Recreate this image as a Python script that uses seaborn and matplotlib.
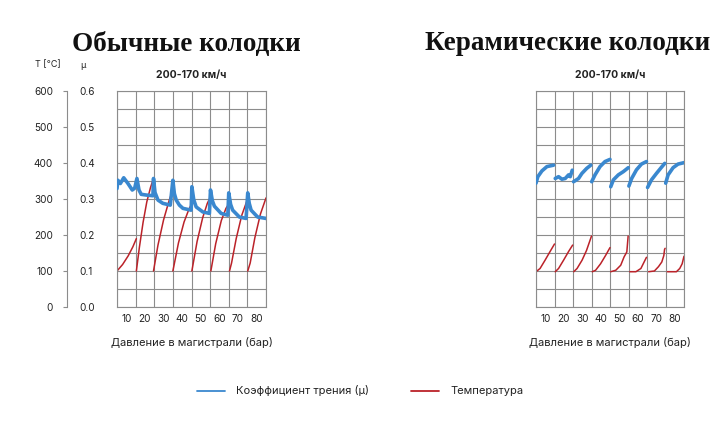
import numpy as np
import pandas as pd
import matplotlib
matplotlib.use("Agg")
import matplotlib.pyplot as plt
from matplotlib.lines import Line2D
import seaborn as sns

# --- data ---
# left chart: ordinary pads, temperature segments (one list per braking)
temp_left_x = [
    [5, 8, 11, 13.5, 15.4],
    [15.4, 17, 19, 21, 23, 24.6],
    [24.6, 27, 30, 33, 35],
    [35, 38, 41, 43.5, 45.2],
    [45.2, 48, 51, 53.5, 55.2],
    [55.4, 58, 61, 63.5, 65.4],
    [65.4, 66.5, 69, 72, 75.2],
    [75.2, 76.5, 79, 82, 85],
]
temp_left_y = [
    [100, 118, 142, 167, 190],
    [100, 165, 235, 292, 332, 357],
    [100, 172, 242, 296, 325],
    [100, 178, 236, 270, 288],
    [100, 182, 248, 288, 306],
    [100, 176, 240, 274, 289],
    [100, 122, 190, 255, 301],
    [100, 122, 192, 258, 303],
]
# friction coefficient, continuous line
mu_left_x = [5, 5.5, 6.8, 8.6, 10.9, 13.2, 14.5, 15.7, 16.8, 18, 20.7, 24.3,
             24.6, 25.4, 27, 29.6, 33.6,
             35, 35.8, 36.8, 38.5, 40.4, 44.8,
             45.2, 46.2, 47.5, 51.1, 54.6,
             55.2, 56.2, 57.3, 60.9, 64.5,
             65, 66, 67.1, 70.7, 74.3,
             75.2, 76, 77, 80.5, 85]
mu_left_y = [0.329, 0.352, 0.343, 0.359, 0.343, 0.325, 0.330, 0.357, 0.325, 0.313, 0.311, 0.309,
             0.357, 0.318, 0.297, 0.288, 0.283,
             0.352, 0.315, 0.297, 0.283, 0.274, 0.269,
             0.334, 0.298, 0.278, 0.264, 0.260,
             0.325, 0.295, 0.280, 0.260, 0.255,
             0.317, 0.285, 0.269, 0.250, 0.246,
             0.317, 0.288, 0.269, 0.250, 0.246]

# right chart: ceramic pads
temp_right_x = [
    [5, 7.2, 9.9, 12.6, 15],
    [15.4, 17.2, 19.9, 22.6, 24.8],
    [25.4, 27.2, 29.9, 32.3, 35],
    [35.4, 37.2, 39.9, 42.6, 45],
    [45.4, 48.1, 50.8, 52.6, 54.1, 54.8],
    [55.7, 59, 61.7, 64.7],
    [65.9, 69, 71.2, 73, 74.1, 74.5, 74.8],
    [76, 80.9, 82.7, 84, 84.9, 85],
]
temp_right_y = [
    [98, 107, 130, 154, 175],
    [98, 107, 130, 154, 172],
    [98, 107, 130, 157, 197],
    [98, 102, 120, 143, 165],
    [98, 102, 116, 139, 153, 197],
    [98, 98, 107, 138],
    [98, 100, 112, 125, 143, 160, 163],
    [98, 98, 107, 120, 139, 141],
]
mu_right_x = [
    [5, 6, 8.2, 10.9, 14.5],
    [15.4, 17.2, 19, 20.8, 22.6, 23.5, 24.6],
    [25.3, 28, 29.8, 32.4, 34.6],
    [35.1, 36.9, 39.6, 42.3, 45],
    [45.4, 46.8, 49.5, 52.2, 54.9],
    [55.2, 56.7, 59.3, 62, 64.7],
    [65.3, 67.4, 70.1, 72.8, 74.6],
    [75.1, 76.4, 79.1, 81.8, 85],
]
mu_right_y = [
    [0.344, 0.362, 0.378, 0.390, 0.394],
    [0.357, 0.362, 0.355, 0.357, 0.367, 0.362, 0.380],
    [0.348, 0.357, 0.371, 0.385, 0.394],
    [0.348, 0.367, 0.390, 0.404, 0.410],
    [0.334, 0.353, 0.367, 0.376, 0.387],
    [0.336, 0.357, 0.381, 0.397, 0.404],
    [0.332, 0.353, 0.371, 0.388, 0.399],
    [0.344, 0.367, 0.387, 0.397, 0.401],
]

x_ticks = [10, 20, 30, 40, 50, 60, 70, 80]
temp_ticks = [0, 100, 200, 300, 400, 500, 600]
mu_ticks = [0.0, 0.1, 0.2, 0.3, 0.4, 0.5, 0.6]

titles = ["Обычные колодки", "Керамические колодки"]
subtitle = "200-170 км/ч"
xlabel = "Давление в магистрали (бар)"
legend_labels = ["Коэффициент трения (μ)", "Температура"]

BLUE = "#3a88cf"
RED = "#bb2229"
GRID = "#8c8c8c"
TXT = "#222222"
SANS = ["Inter", "DejaVu Sans"]
SERIF = ["Liberation Serif", "DejaVu Serif"]


def to_frame(xs, ys):
    rows = []
    for i, (sx, sy) in enumerate(zip(xs, ys)):
        for a, b in zip(sx, sy):
            rows.append((i, a, b))
    return pd.DataFrame(rows, columns=["seg", "x", "y"])


sns.set_theme(style="white")
plt.rcParams["font.family"] = SANS

fig = plt.figure(figsize=(7.2, 4.32), dpi=100)
W, H = 720, 432


def px_axes(x0, x1, y0, y1):
    return fig.add_axes([x0 / W, (H - y1) / H, (x1 - x0) / W, (y1 - y0) / H])


def setup_grid(ax):
    ax.set_xlim(5, 85)
    ax.set_ylim(0, 600)
    ax.set_xticks(x_ticks)
    ax.set_xticks(np.arange(5, 86, 10), minor=True)
    ax.set_yticks(np.arange(0, 601, 50))
    ax.set_yticklabels([])
    ax.tick_params(axis="both", which="both", length=0)
    ax.tick_params(axis="x", labelsize=7.2, pad=5, colors=TXT)
    ax.grid(False)
    ax.grid(axis="x", which="minor", color=GRID, lw=0.8)
    ax.grid(axis="y", which="major", color=GRID, lw=0.8)
    for s in ax.spines.values():
        s.set_color(GRID)
        s.set_linewidth(0.8)
    ax.set_xlabel("")
    ax.set_ylabel("")
    ax.text(0.5, 1 + 16 / 216, subtitle, transform=ax.transAxes, ha="center",
            va="center", fontsize=7.5, fontweight="bold", color=TXT)
    ax.text(0.5, -36 / 216, xlabel, transform=ax.transAxes, ha="center",
            va="center", fontsize=8, color=TXT)


def draw(ax, tx, ty, mx, my):
    setup_grid(ax)
    sns.lineplot(data=to_frame(tx, ty), x="x", y="y", units="seg", estimator=None,
                 color=RED, lw=1.1, ax=ax, sort=False)
    ax2 = ax.twinx()
    ax2.set_ylim(0, 0.6)
    sns.lineplot(data=to_frame(mx, my), x="x", y="y", units="seg", estimator=None,
                 color=BLUE, lw=2.6, ax=ax2, sort=False)
    ax2.set_yticks([])
    ax2.set_ylabel("")
    for s in ax2.spines.values():
        s.set_visible(False)
    ax.set_xlim(5, 85)
    ax.set_xlabel("")
    ax.set_ylabel("")
    ax.set_xticklabels([str(v) for v in x_ticks])


ax_l = px_axes(117, 266, 91, 307)
draw(ax_l, temp_left_x, temp_left_y, [mu_left_x], [mu_left_y])

ax_r = px_axes(536, 684, 91, 307)
draw(ax_r, temp_right_x, temp_right_y, mu_right_x, mu_right_y)

# shared scale on the far left (T and mu)
ax_s = px_axes(67, 67.1, 91, 307)
ax_s.set_facecolor("none")
ax_s.set_ylim(0, 600)
ax_s.set_xticks([])
ax_s.set_yticks(temp_ticks)
ax_s.set_yticklabels([str(v) for v in temp_ticks])
ax_s.tick_params(axis="y", length=3, width=0.8, color=GRID, pad=7, labelsize=7.2, labelcolor=TXT)
for k, s in ax_s.spines.items():
    s.set_visible(k == "left")
ax_s.spines["left"].set_color(GRID)
ax_s.spines["left"].set_linewidth(0.8)
ax_m = ax_s.twinx()
ax_m.set_ylim(0, 0.6)
ax_m.set_yticks(mu_ticks)
ax_m.set_yticklabels([f"{v:.1f}" for v in mu_ticks])
ax_m.tick_params(axis="y", length=0, pad=9, labelsize=7.2, labelcolor=TXT)
for s in ax_m.spines.values():
    s.set_visible(False)

fig.text(48 / W, (H - 65) / H, "T [°C]", ha="center", va="center", fontsize=6.5, color=TXT)
fig.text(80 / W, (H - 65) / H, "μ", ha="left", va="center", fontsize=6.5, color=TXT)

# big titles
fig.text(186 / W, (H - 45) / H, titles[0], ha="center", va="center", fontsize=19.5,
         fontweight="bold", family=SERIF, color="#111111")
fig.text(568 / W, (H - 44) / H, titles[1], ha="center", va="center", fontsize=19.5,
         fontweight="bold", family=SERIF, color="#111111")

handles = [Line2D([], [], color=BLUE, lw=1.3), Line2D([], [], color=RED, lw=1.3)]
fig.legend(handles, legend_labels, loc="center", bbox_to_anchor=(360 / W, (H - 391) / H),
           ncol=2, frameon=False, fontsize=8, handlelength=2.5, handletextpad=1.0,
           columnspacing=3.8, labelcolor=TXT)

fig.savefig("out.png", dpi=100, facecolor="white")
